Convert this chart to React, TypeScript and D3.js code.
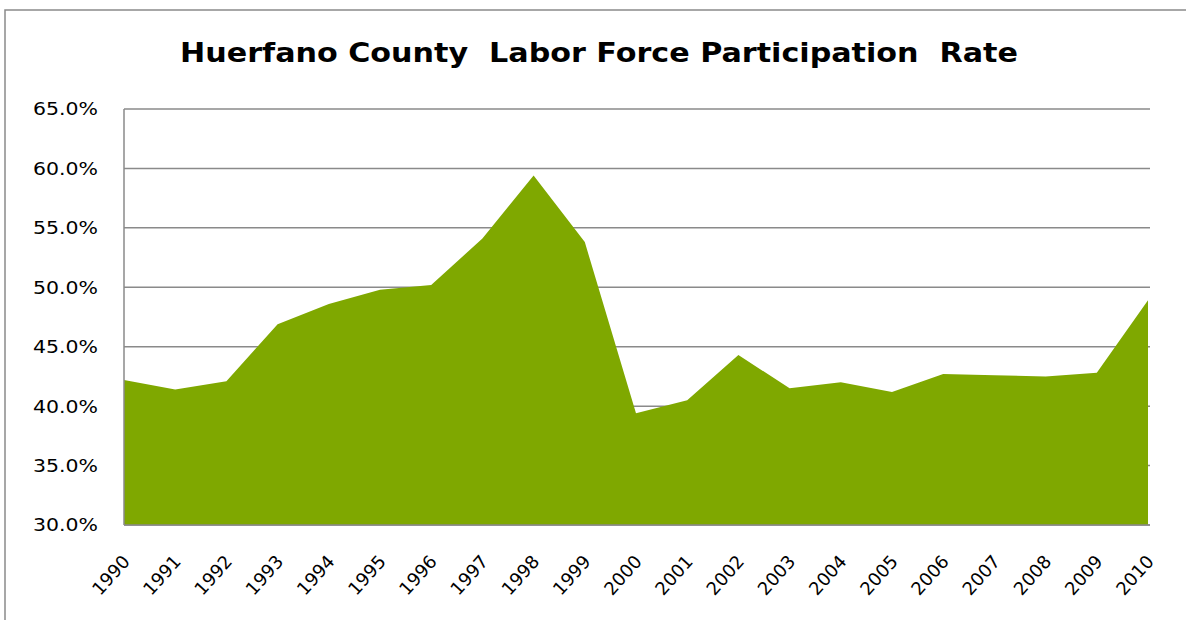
import React, { useEffect, useRef } from 'react';
import * as d3 from 'd3';

const years = [1990, 1991, 1992, 1993, 1994, 1995, 1996, 1997, 1998, 1999, 2000,
    2001, 2002, 2003, 2004, 2005, 2006, 2007, 2008, 2009, 2010];
const participationRate = [42.2, 41.4, 42.1, 46.9, 48.6, 49.8, 50.2, 54.1, 59.4, 53.8, 39.4,
    40.5, 44.3, 41.5, 42.0, 41.2, 42.7, 42.6, 42.5, 42.8, 48.9];
const yTicks = [30, 35, 40, 45, 50, 55, 60, 65];
const title = 'Huerfano County  Labor Force Participation  Rate';

const App = () => {
    const chartRef = useRef<SVGSVGElement>(null);

    useEffect(() => {
        const svg = d3.select(chartRef.current);
        svg.selectAll('*').remove();

        const data = years.map((y, i) => ({ year: y, value: participationRate[i] }));

        const xScale = d3.scaleLinear()
            .domain([years[0], years[years.length - 1]])
            .range([124, 1148]);

        const yScale = d3.scaleLinear()
            .domain([30, 65])
            .range([525, 109]);

        // outer chart frame (cut off at right/bottom)
        svg.append('rect')
            .attr('x', 5)
            .attr('y', 10)
            .attr('width', 1300)
            .attr('height', 800)
            .attr('fill', 'white')
            .attr('stroke', '#8a8a8a')
            .attr('stroke-width', 1.5);

        svg.append('text')
            .attr('x', 180)
            .attr('y', 62)
            .attr('textLength', 838)
            .attr('lengthAdjust', 'spacingAndGlyphs')
            .style('white-space', 'pre')
            .style('font-family', 'DejaVu Sans')
            .style('font-weight', 'bold')
            .style('font-size', '26px')
            .attr('fill', '#000')
            .text(title);

        // gridlines
        svg.selectAll('.grid')
            .data(yTicks)
            .enter()
            .append('line')
            .attr('x1', 124)
            .attr('x2', 1150)
            .attr('y1', d => yScale(d))
            .attr('y2', d => yScale(d))
            .attr('stroke', '#8a8a8a')
            .attr('stroke-width', 1.5);

        const area = d3.area<{ year: number; value: number }>()
            .x(d => xScale(d.year))
            .y0(yScale(30))
            .y1(d => yScale(d.value));

        svg.append('path')
            .datum(data)
            .attr('fill', '#7fa800')
            .attr('d', area);

        // axis lines on top of area
        svg.append('line')
            .attr('x1', 124).attr('x2', 124)
            .attr('y1', yScale(65)).attr('y2', yScale(30))
            .attr('stroke', '#8a8a8a')
            .attr('stroke-width', 1.5);
        svg.append('line')
            .attr('x1', 124).attr('x2', 1150)
            .attr('y1', yScale(30)).attr('y2', yScale(30))
            .attr('stroke', '#8a8a8a')
            .attr('stroke-width', 1.5);

        // y labels: start at x=33, stretched to the reference width
        svg.selectAll('.ylab')
            .data(yTicks)
            .enter()
            .append('text')
            .attr('x', 33)
            .attr('y', d => yScale(d))
            .attr('dy', '0.36em')
            .attr('textLength', 65)
            .attr('lengthAdjust', 'spacingAndGlyphs')
            .style('font-family', 'DejaVu Sans')
            .style('font-size', '18px')
            .attr('fill', '#000')
            .text(d => d3.format('.1f')(d) + '%');

        svg.selectAll('.xlab')
            .data(years)
            .enter()
            .append('text')
            .attr('transform', d => `translate(${xScale(d) + 2},558) rotate(-48)`)
            .attr('dy', '0.36em')
            .attr('text-anchor', 'end')
            .style('font-family', 'DejaVu Sans')
            .style('font-size', '18px')
            .attr('fill', '#000')
            .text(d => d);
    }, []);

    return (
        <svg ref={chartRef} width={1186} height={620}
            style={{ position: 'absolute', left: 0, top: 0, background: 'white' }} />
    );
};

export default App;
